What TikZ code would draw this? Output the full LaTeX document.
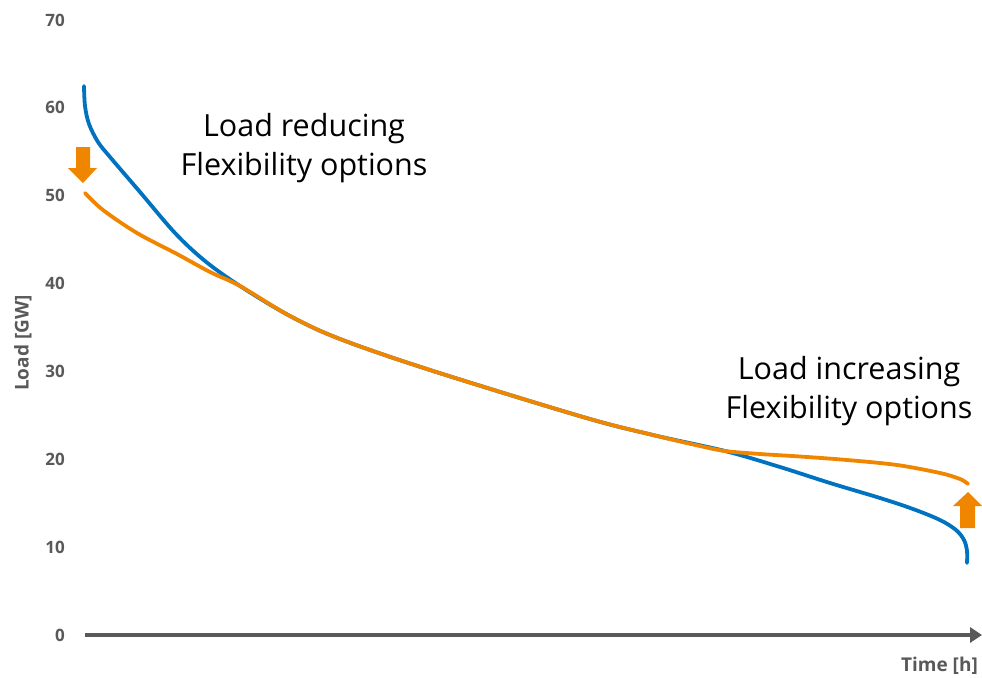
\documentclass[tikz,border=0pt]{standalone}
\usepackage{fontspec}
\setmainfont{Open Sans}
\usetikzlibrary{arrows.meta}
\definecolor{loadblue}{RGB}{0,114,191}
\definecolor{flexorange}{RGB}{240,134,0}
\definecolor{axisgrey}{RGB}{89,89,89}

\begin{document}
\begin{tikzpicture}[x=1pt, y=-1pt,
    ticklabel/.style={anchor=east, text=axisgrey, font=\fontsize{17}{20}\selectfont\bfseries, inner sep=0pt},
    axistitle/.style={text=axisgrey, font=\fontsize{19}{22}\selectfont\bfseries, inner sep=0pt},
    flexlabel/.style={align=center, font=\fontsize{30.5}{39}\selectfont, inner sep=0pt},
    curve/.style={line width=3.8pt, line cap=round, line join=round},
    blockarrow/.style={fill=flexorange, draw=none}]
        \useasboundingbox (0,0) rectangle (982,677);

        % Axis
        \coordinate (origin) at (85,635);
        \coordinate (timeend) at (982,635);
        \draw[axisgrey, line width=4.5pt, -{Triangle[length=12pt, width=15pt]}] (origin) -- (timeend);
        \foreach \v in {0,10,...,70}
            \node[ticklabel] (tick\v) at (65,635-\v*8.786) {\v};
        \node[axistitle, rotate=90] (loadtitle) at (23,343) {Load [GW]};
        \node[axistitle, anchor=east] (timetitle) at (978,666) {Time [h]};

        % Original load curve
        \draw[curve, loadblue] plot[smooth, tension=0.55] coordinates {
            (84,86) (85,106) (89,124) (98,142) (110,157) (140,192) (175,233)
            (205,261) (240,286) (290,316) (340,339) (430,370) (583,417) (653,435)
            (725,451) (780,467) (830,483) (880,498) (913,509) (940,520) (956,530)
            (964,540) (967,551) (967,563)};

        % Flexible load curve
        \draw[curve, flexorange] plot[smooth, tension=0.55] coordinates {
            (85,193) (103,210) (137,233) (177,254) (210,272) (240,286)
            (290,316) (340,339) (430,370) (583,417) (653,435) (700,446) (725,451)
            (760,454) (800,456.5) (847,460) (897,465) (940,473) (960,479) (968,484)};

        % Block arrows
        \fill[blockarrow] (76,147) -- (90,147) -- (90,168) -- (97,168) -- (83,183)
            -- (68,168) -- (76,168) -- cycle;
        \fill[blockarrow] (960,528) -- (975,528) -- (975,506) -- (982,506) -- (968,492)
            -- (953,506) -- (960,506) -- cycle;

        % Labels
        \node[flexlabel] (reducing) at (304,148) {Load reducing\\Flexibility options};
        \node[flexlabel] (increasing) at (849,391) {Load increasing\\Flexibility options};
    \end{tikzpicture}
\end{document}
